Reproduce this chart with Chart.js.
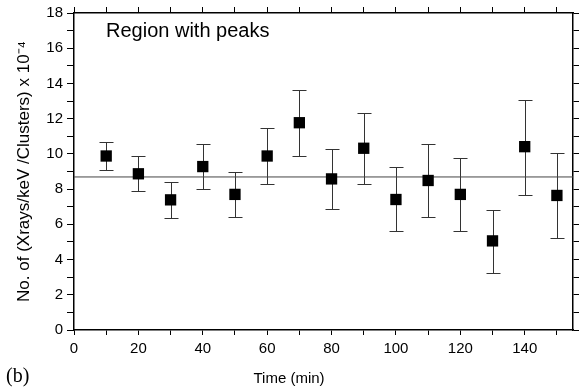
<!DOCTYPE html>
<html><head><meta charset="utf-8">
<script src="https://cdn.jsdelivr.net/npm/chart.js@4/dist/chart.umd.min.js"></script>
<style>html,body{margin:0;padding:0;background:#fff;overflow:hidden;} #wrap{width:587px;height:389px;position:relative;}</style>
</head><body><div id="wrap"><canvas id="c" width="587" height="389"></canvas></div>
<script>
// ---- data ----
const times    = [10, 20, 30, 40, 50, 60, 70, 80, 90, 100, 110, 120, 130, 140, 150];
const values   = [9.88, 8.87, 7.39, 9.28, 7.70, 9.88, 11.77, 8.58, 10.32, 7.41, 8.49, 7.70, 5.06, 10.41, 7.64];
const errUpper = [10.70, 9.87, 8.41, 10.55, 8.96, 11.47, 13.64, 10.28, 12.32, 9.26, 10.55, 9.77, 6.83, 13.07, 10.06];
const errLower = [9.07, 7.87, 6.36, 8.00, 6.40, 8.30, 9.90, 6.85, 8.28, 5.64, 6.43, 5.64, 3.26, 7.68, 5.22];
const meanLevel = 8.69;
const xRange = [0, 155];
const yRange = [0, 18];
const xTitle = 'Time (min)';
const yTitle = 'No. of (Xrays/keV /Clusters) x 10\u207B\u2074';
const panelNote = 'Region with peaks';
const panelTag = '(b)';

const errorBars = {
  id: 'errorBars',
  beforeDatasetsDraw(chart) {
    const {ctx, scales: {x, y}} = chart;
    ctx.save();
    ctx.strokeStyle = '#333';
    ctx.lineWidth = 1;
    times.forEach((t, i) => {
      const px = Math.round(x.getPixelForValue(t)) + 0.5;
      const yt = Math.round(y.getPixelForValue(errUpper[i])) + 0.5;
      const yb = Math.round(y.getPixelForValue(errLower[i])) + 0.5;
      ctx.beginPath();
      ctx.moveTo(px, yt); ctx.lineTo(px, yb);
      ctx.moveTo(px - 7, yt); ctx.lineTo(px + 7, yt);
      ctx.moveTo(px - 7, yb); ctx.lineTo(px + 7, yb);
      ctx.stroke();
    });
    ctx.restore();
  }
};
const texts = {
  id: 'texts',
  afterDraw(chart) {
    const ctx = chart.ctx;
    ctx.save();
    ctx.fillStyle = '#000';
    ctx.textBaseline = 'alphabetic';
    ctx.font = '20px "Liberation Sans", Arial, sans-serif';
    ctx.fillText(panelNote, 106, 37);
    ctx.font = '15px "Liberation Sans", Arial, sans-serif';
    ctx.textAlign = 'center';
    ctx.fillText(xTitle, 289, 383);
    ctx.textAlign = 'left';
    ctx.font = '20px "Liberation Serif", "Times New Roman", serif';
    ctx.fillText(panelTag, 6, 382);
    ctx.restore();
  }
};

const fam = '"Liberation Sans", Arial, sans-serif';
const tickFont = {family: fam, size: 15};
function axisCommon(extra, tickLen) {
  return Object.assign({
    type: 'linear',
    grid: {drawOnChartArea: false, drawTicks: true, tickLength: tickLen, tickColor: '#000', tickWidth: 1},
    border: {display: true, color: '#000', width: 1.5},
  }, extra);
}

new Chart(document.getElementById('c'), {
  type: 'scatter',
  data: {
    datasets: [
      {
        data: times.map((t, i) => ({x: t, y: values[i]})),
        pointStyle: 'rect', pointRadius: 8, pointHoverRadius: 8,
        backgroundColor: '#000', borderColor: '#000', borderWidth: 0,
        showLine: false, order: 0
      },
      {
        data: [{x: xRange[0], y: meanLevel}, {x: xRange[1], y: meanLevel}],
        showLine: true, pointRadius: 0, borderColor: '#444', borderWidth: 1, order: 1
      }
    ]
  },
  options: {
    responsive: false, animation: false, devicePixelRatio: 1,
    layout: {padding: 0},
    plugins: {legend: {display: false}, tooltip: {enabled: false}},
    scales: {
      x: axisCommon({
        position: 'bottom', min: xRange[0], max: xRange[1],
        ticks: {stepSize: 10, includeBounds: false, autoSkip: false, maxRotation: 0, color: '#000', font: tickFont, padding: 5,
                callback: v => (v % 20 === 0 ? String(v) : '')},
        title: {display: false},
        afterFit: s => { s.height = 59; }
      }, 5),
      y: axisCommon({
        position: 'left', min: yRange[0], max: yRange[1],
        ticks: {stepSize: 1, includeBounds: false, autoSkip: false, color: '#000', font: tickFont, padding: 4,
                callback: v => (v % 2 === 0 ? String(v) : '')},
        title: {display: true, text: yTitle, color: '#000', font: {family: fam, size: 17}, padding: {top: 14, bottom: 0}},
        afterFit: s => { s.width = 74; }
      }, 7),
      x2: axisCommon({
        position: 'top', min: xRange[0], max: xRange[1],
        ticks: {display: false, stepSize: 10, includeBounds: false, autoSkip: false},
        afterFit: s => { s.height = 12; }
      }, 6),
      y2: axisCommon({
        position: 'right', min: yRange[0], max: yRange[1],
        ticks: {display: false, stepSize: 1, includeBounds: false, autoSkip: false},
        afterFit: s => { s.width = 14; }
      }, 6)
    }
  },
  plugins: [errorBars, texts]
});
</script>
</body></html>
